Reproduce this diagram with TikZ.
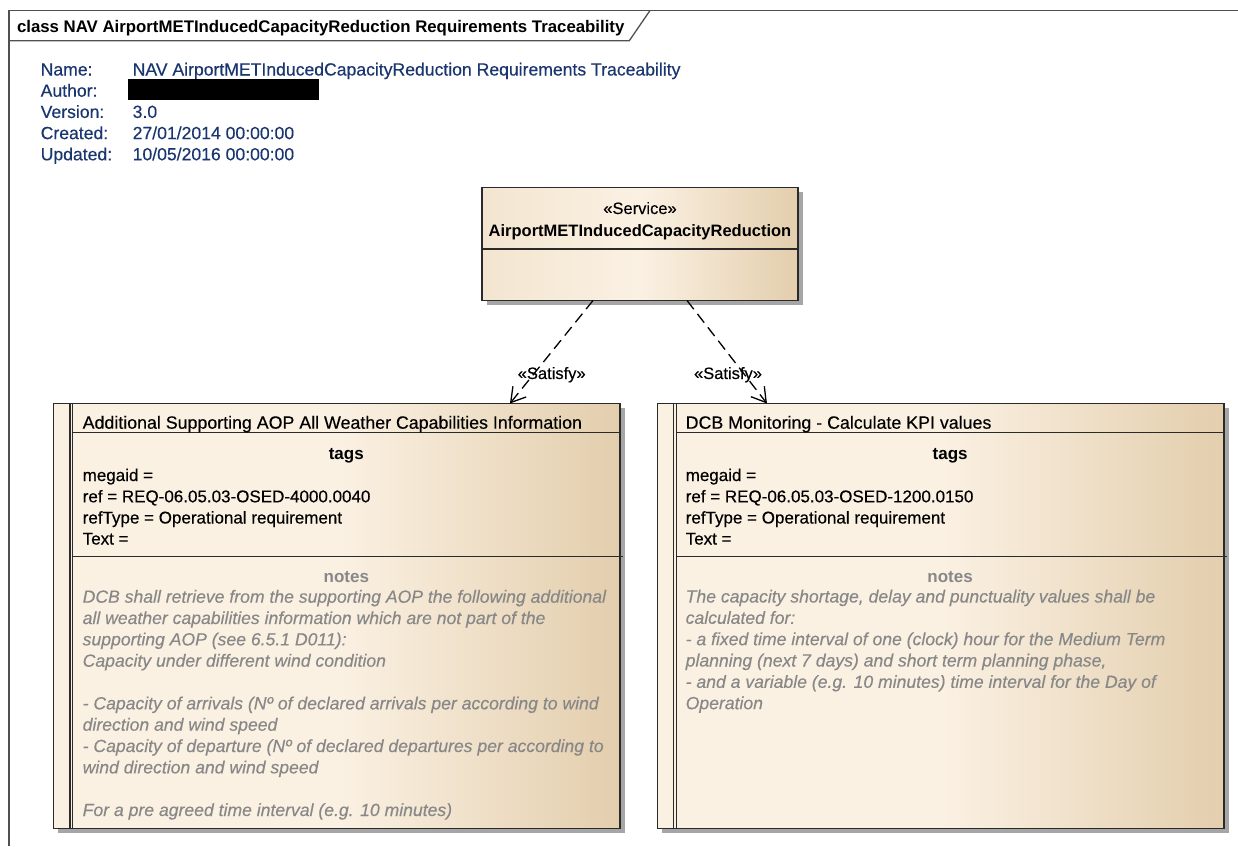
\documentclass[tikz,border=0pt]{standalone}
\usepackage{fontspec}
\setmainfont{Liberation Sans}[UprightFeatures={FakeBold=0.35}, ItalicFeatures={FakeBold=0.3}]
\usetikzlibrary{arrows.meta,calc,shadows}
\definecolor{hdrblue}{HTML}{1A3670}
\definecolor{notegray}{HTML}{888888}
\definecolor{framegray}{HTML}{505050}
\definecolor{boxpale}{HTML}{FBF1E3}
\definecolor{boxtan}{HTML}{E3CEAD}
\definecolor{boxmid}{HTML}{F3E5D0}
\definecolor{boxline}{HTML}{2A2A2A}
\begin{document}
\begin{tikzpicture}[x=1pt,y=-1pt,
  every node/.style={inner sep=0pt, outer sep=0pt},
  txt/.style={anchor=base west, font=\fontsize{17}{21}\selectfont},
  hdr/.style={anchor=base west, text=hdrblue, font=\fontsize{17.6}{21}\selectfont},
  notetxt/.style={anchor=base west, text=notegray, font=\fontsize{17.6}{21}\selectfont\itshape},
  ctag/.style={anchor=base, font=\fontsize{17}{21}\selectfont\bfseries},
  cnote/.style={anchor=base, text=notegray, font=\fontsize{17}{21}\selectfont\bfseries},
  lbl/.style={anchor=base, font=\fontsize{16.5}{20}\selectfont},
  frameline/.style={draw=framegray, line width=1.3pt},
  sepline/.style={draw=boxline, line width=1.2pt},
  boxshape/.style={rectangle, draw=boxline, line width=1.2pt,
    left color=boxpale, right color=boxtan, middle color=boxpale,
    drop shadow={shadow xshift=4.5pt, shadow yshift=-4.5pt, fill=black, opacity=0.35}},
  svcshape/.style={rectangle, draw=boxline, line width=1.2pt,
    left color=boxmid, right color=boxtan, middle color=boxpale,
    drop shadow={shadow xshift=4.5pt, shadow yshift=-4.5pt, fill=black, opacity=0.35}},
  satisfy/.style={draw=black, line width=1.3pt, dash pattern=on 11pt off 6pt,
    -{Straight Barb[length=14pt,width=17pt]}}
]
\useasboundingbox (0,0) rectangle (1238,846);
\fill[white] (0,0) rectangle (1238,846);

% frame and tab
\draw[frameline] (9,846) -- (9,10.5) -- (1238,10.5);
\draw[frameline] (9,40.7) -- (629.3,40.7) -- (650,10.5);
\node[anchor=base west, font=\fontsize{16.8}{20}\selectfont\bfseries] (tabtitle) at (17,32.7)
  {class NAV AirportMETInducedCapacityReduction Requirements Traceability};

% header
\node[hdr] (hName) at (40.7,75.5) {Name:};
\node[hdr] (hAuthor) at (40.7,96.7) {Author:};
\node[hdr] (hVersion) at (40.7,117.9) {Version:};
\node[hdr] (hCreated) at (40.7,139.1) {Created:};
\node[hdr] (hUpdated) at (40.7,160.3) {Updated:};
\node[hdr] (vName) at (132.7,75.5) {NAV AirportMETInducedCapacityReduction Requirements Traceability};
\node[hdr] (vVersion) at (132.7,117.9) {3.0};
\node[hdr] (vCreated) at (132.7,139.1) {27/01/2014 00:00:00};
\node[hdr] (vUpdated) at (132.7,160.3) {10/05/2016 00:00:00};
\fill[black] (128.3,79) rectangle (319.3,100);

% service box
\node[svcshape, minimum width=316pt, minimum height=113.2pt] (svc) at (640,243.9) {};
\draw[sepline] (482,249) -- (798,249);
\node[lbl] (svcst) at (640,214) {«Service»};
\node[anchor=base, font=\fontsize{16.5}{20}\selectfont\bfseries] (svcname) at (640,236) {AirportMETInducedCapacityReduction};

% requirement boxes
\node[boxshape, minimum width=566.7pt, minimum height=425pt] (req1) at (336.65,616) {};
\node[boxshape, minimum width=566.7pt, minimum height=425pt] (req2) at (940.65,616) {};

% left box internals
\draw[sepline] (70,403.5) -- (70,828.5);
\draw[sepline] (72.6,403.5) -- (72.6,828.5);
\draw[sepline] (72.6,432.7) -- (620,432.7);
\draw[sepline] (72.6,556.7) -- (623,556.7);
\node[anchor=base west, font=\fontsize{17.8}{21}\selectfont] (t1) at (82.7,428.7)
  {Additional Supporting AOP All Weather Capabilities Information};
\node[ctag] (tags1) at (346.3,459.3) {tags};
\node[txt] (a1) at (82.7,481) {megaid =};
\node[txt] (b1) at (82.7,502.3) {ref = REQ-06.05.03-OSED-4000.0040};
\node[txt] (c1) at (82.7,523.5) {refType = Operational requirement};
\node[txt] (d1) at (82.7,544.5) {Text =};
\node[cnote] (notes1) at (346.3,582.5) {notes};
\foreach \t [count=\i from 0] in {%
  {DCB shall retrieve from the supporting AOP the following additional},
  {all weather capabilities information which are not part of the},
  {supporting AOP (see 6.5.1 D011):},
  {Capacity under different wind condition},
  {},
  {- Capacity of arrivals (Nº of declared arrivals per according to wind},
  {direction and wind speed},
  {- Capacity of departure (Nº of declared departures per according to},
  {wind direction and wind speed},
  {},
  {For a pre agreed time interval (e.g. 10 minutes)}}
  \node[notetxt] (nl\i) at (82.7,602.7+21.33*\i) {\t};

% right box internals
\draw[sepline] (673.6,403.5) -- (673.6,828.5);
\draw[sepline] (676.2,403.5) -- (676.2,828.5);
\draw[sepline] (676.2,432.7) -- (1224,432.7);
\draw[sepline] (676.2,556.7) -- (1227,556.7);
\node[anchor=base west, font=\fontsize{17.8}{21}\selectfont] (t2) at (685.7,428.7)
  {DCB Monitoring - Calculate KPI values};
\node[ctag] (tags2) at (950.1,459.3) {tags};
\node[txt] (a2) at (685.7,481) {megaid =};
\node[txt] (b2) at (685.7,502.3) {ref = REQ-06.05.03-OSED-1200.0150};
\node[txt] (c2) at (685.7,523.5) {refType = Operational requirement};
\node[txt] (d2) at (685.7,544.5) {Text =};
\node[cnote] (notes2) at (950.1,582.5) {notes};
\foreach \t [count=\i from 0] in {%
  {The capacity shortage, delay and punctuality values shall be},
  {calculated for:},
  {- a fixed time interval of one (clock) hour for the Medium Term},
  {planning (next 7 days) and short term planning phase,},
  {- and a variable (e.g. 10 minutes) time interval for the Day of},
  {Operation}}
  \node[notetxt] (nr\i) at (685.7,602.5+21.33*\i) {\t};

% connectors
\draw[satisfy] ([xshift=-47pt]svc.south) -- ([xshift=173.3pt]req1.north);
\draw[satisfy] ([xshift=47pt]svc.south) -- ([xshift=-173.7pt]req2.north);
\node[lbl] (sat1) at (551.7,379) {«Satisfy»};
\node[lbl] (sat2) at (728,379) {«Satisfy»};
\end{tikzpicture}
\end{document}
